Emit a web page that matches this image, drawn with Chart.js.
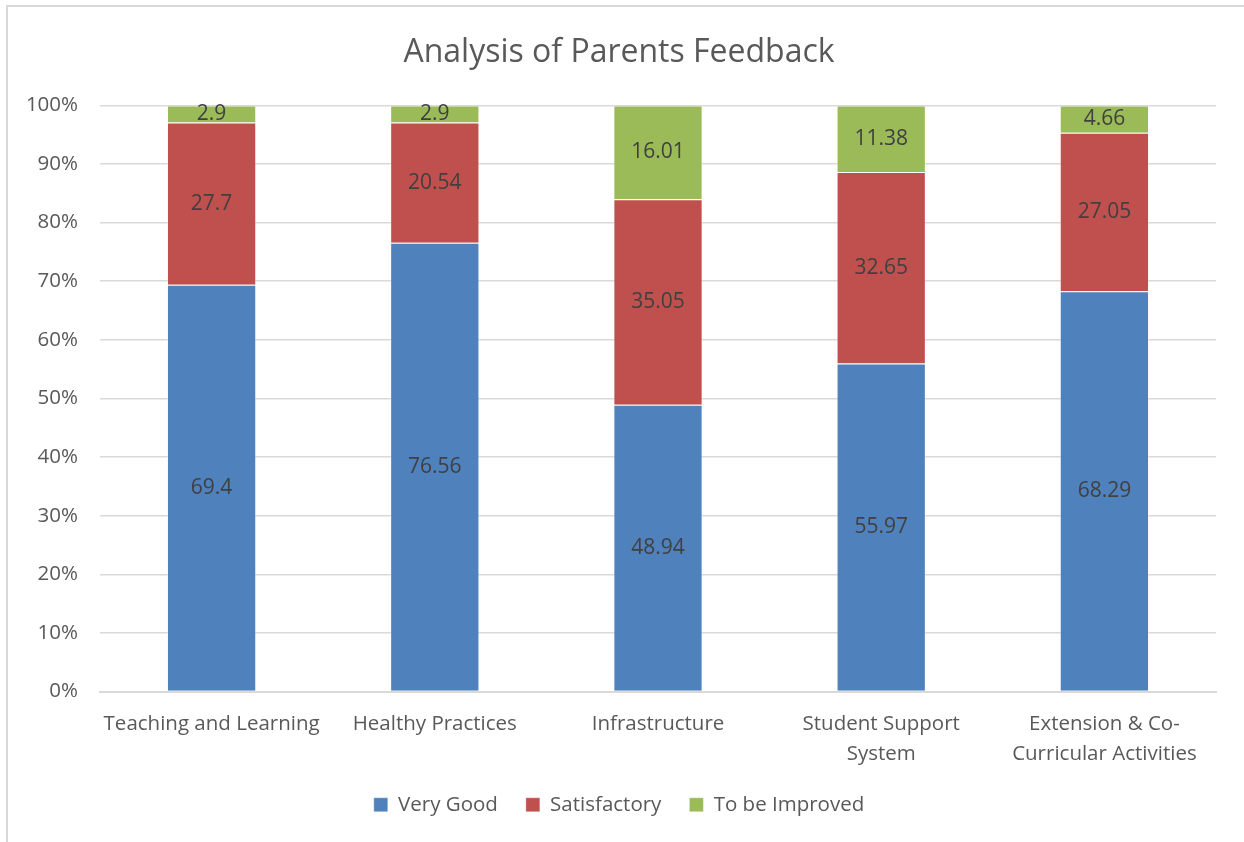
<!DOCTYPE html>
<html>
<head>
<meta charset="utf-8">
<script src="https://cdn.jsdelivr.net/npm/chart.js@4/dist/chart.umd.min.js"></script>
<style>
  html, body { margin: 0; padding: 0; background: #fff; }
  #wrap { position: relative; width: 1244px; height: 842px; overflow: hidden; }
  #frame { position: absolute; left: 6px; top: 5px; width: 1260px; height: 860px; border-top: 2px solid #d9d9d9; border-left: 2px solid #d9d9d9; box-sizing: border-box; }
  canvas { position: absolute; left: 0; top: 0; }
</style>
</head>
<body>
<div id="wrap">
  <div id="frame"></div>
  <canvas id="c" width="1244" height="842"></canvas>
</div>
<script>
const categories = [
  'Teaching and Learning',
  'Healthy Practices',
  'Infrastructure',
  ['Student Support', 'System'],
  ['Extension & Co-', 'Curricular Activities']
];
const veryGood = [69.4, 76.56, 48.94, 55.97, 68.29];
const satisfactory = [27.7, 20.54, 35.05, 32.65, 27.05];
const toBeImproved = [2.9, 2.9, 16.01, 11.38, 4.66];
const yTicks = [0, 10, 20, 30, 40, 50, 60, 70, 80, 90, 100];

const FONT = "'Open Sans', 'Noto Sans', sans-serif";

const labelPlugin = {
  id: 'segLabels',
  afterDatasetsDraw(chart) {
    const ctx = chart.ctx;
    ctx.save();
    ctx.font = '21px ' + FONT;
    ctx.fillStyle = '#404040';
    ctx.textAlign = 'center';
    ctx.textBaseline = 'middle';
    chart.data.datasets.forEach((ds, i) => {
      const meta = chart.getDatasetMeta(i);
      meta.data.forEach((bar, j) => {
        const v = ds.data[j];
        const p = bar.getProps(['x', 'y', 'base'], true);
        ctx.fillText(String(v), p.x, (p.y + p.base) / 2);
      });
    });
    ctx.restore();
  }
};

new Chart(document.getElementById('c'), {
  type: 'bar',
  data: {
    labels: categories,
    datasets: [
      { label: 'Very Good', data: veryGood, backgroundColor: '#4F81BD', borderColor: 'rgba(255,255,255,0.35)', borderWidth: 1 },
      { label: 'Satisfactory', data: satisfactory, backgroundColor: '#C0504D', borderColor: 'rgba(255,255,255,0.35)', borderWidth: 1 },
      { label: 'To be Improved', data: toBeImproved, backgroundColor: '#9BBB59', borderColor: 'rgba(255,255,255,0.35)', borderWidth: 1 }
    ]
  },
  options: {
    responsive: false,
    animation: false,
    layout: { padding: { left: 22, right: 28, top: 0, bottom: 17 } },
    datasets: { bar: { categoryPercentage: 1.0, barPercentage: 0.4 } },
    plugins: {
      title: {
        display: true,
        text: 'Analysis of Parents Feedback',
        color: '#595959',
        font: { family: FONT, size: 32, weight: 'normal' },
        padding: { top: 34, bottom: 33 }
      },
      legend: {
        position: 'bottom',
        labels: {
          color: '#595959',
          font: { family: FONT, size: 20.5 },
          boxWidth: 14,
          boxHeight: 14,
          padding: 28
        }
      },
      tooltip: { enabled: false }
    },
    scales: {
      x: {
        stacked: true,
        grid: { display: false, drawTicks: false },
        border: { color: '#d9d9d9', width: 2 },
        ticks: {
          color: '#595959',
          font: { family: FONT, size: 20.5, lineHeight: 1.45 },
          padding: 18,
          maxRotation: 0,
          autoSkip: false
        },
        afterFit(scale) { scale.height = 75; }
      },
      y: {
        stacked: true,
        min: 0,
        max: 100,
        afterBuildTicks(scale) { scale.ticks = yTicks.map(v => ({ value: v })); },
        grid: { color: '#d9d9d9', lineWidth: 1.5, drawTicks: false },
        border: { display: false },
        ticks: {
          color: '#595959',
          font: { family: FONT, size: 20.5 },
          padding: 22,
          callback: v => v + '%'
        },
        afterFit(scale) { scale.width = 78; }
      }
    }
  },
  plugins: [labelPlugin]
});
</script>
</body>
</html>
